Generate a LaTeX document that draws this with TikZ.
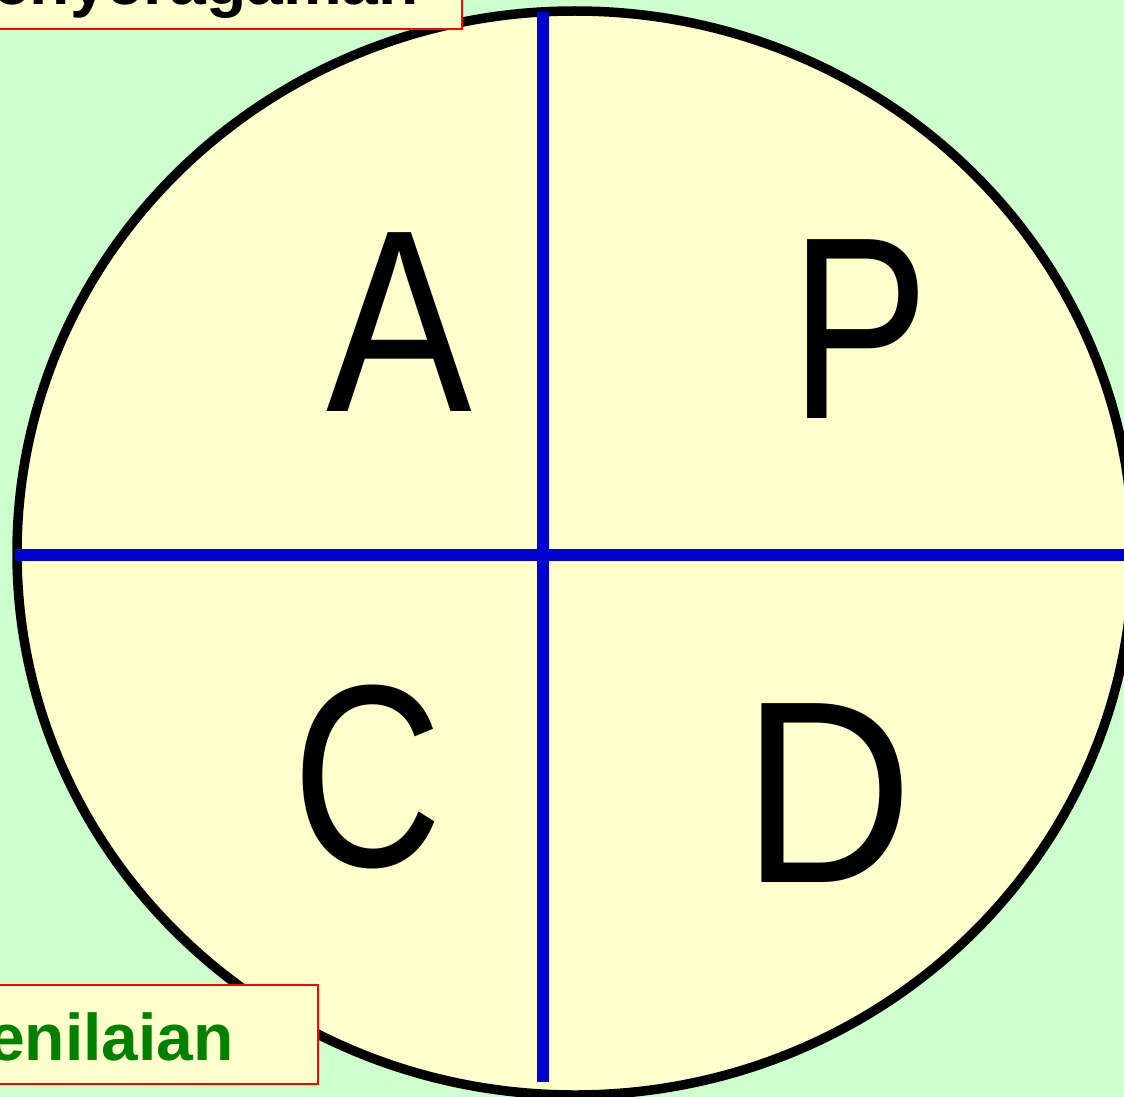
\documentclass[tikz,border=0pt]{standalone}
\usepackage{fontspec}
\setmainfont{Liberation Sans}
\usetikzlibrary{shapes.geometric}
\definecolor{bgG}{HTML}{CCFFCC}
\definecolor{fillY}{HTML}{FFFFCC}
\definecolor{lineB}{HTML}{0000CC}
\definecolor{txtG}{HTML}{008000}
\tikzset{
  oval/.style={draw=black, line width=9.5pt, fill=fillY},
  axis/.style={draw=lineB, line width=11.5pt},
  labelbox/.style={draw=red, line width=2pt, fill=fillY, rectangle, inner sep=0pt},
  bigletter/.style={inner sep=0pt, font=\fontsize{260}{260}\selectfont},
  boxtext/.style={inner sep=0pt, font=\fontsize{66}{66}\selectfont\bfseries}
}
\begin{document}
\begin{tikzpicture}[x=1pt,y=-1pt]
\useasboundingbox (0,0) rectangle (1124,1097);
\fill[bgG] (0,0) rectangle (1124,1097);
\node[oval, ellipse, minimum width=1116pt, minimum height=1084pt, inner sep=0pt] (circ) at (575,553) {};
\coordinate (vtop) at (543,12);
\coordinate (vbot) at (543,1082);
\coordinate (hl) at (15,555);
\coordinate (hr) at (1130,555);
\draw[axis] (vtop) -- (vbot);
\draw[axis] (hl) -- (hr);
\node[bigletter] (A) at (399.5,322) {\scalebox{0.84}[1]{A}};
\node[bigletter] (P) at (860,329) {\scalebox{0.80}[1]{P}};
\node[bigletter] (C) at (368,777) {\scalebox{0.80}[1]{C}};
\node[bigletter] (D) at (828,793) {\scalebox{0.91}[1]{D}};
\node[labelbox, anchor=south east, minimum width=560pt, minimum height=80pt] (topbox) at (463,30) {};
\node[boxtext, anchor=base east, text=black] (toptext) at (419,5) {enyeragaman};
\node[labelbox, anchor=north east, minimum width=360pt, minimum height=99pt] (botbox) at (319,984) {};
\node[boxtext, anchor=base east, text=txtG] (bottext) at (234,1060) {enilaian};
\end{tikzpicture}
\end{document}
